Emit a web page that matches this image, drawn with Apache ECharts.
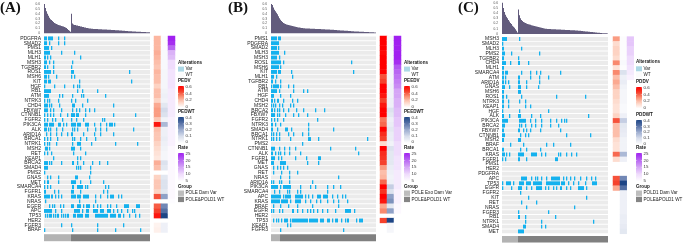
<!DOCTYPE html>
<html><head><meta charset="utf-8">
<script src="https://cdn.jsdelivr.net/npm/echarts@6/dist/echarts.min.js"></script>
<style>html,body{margin:0;padding:0;background:#fff}#c{width:685px;height:243px}</style>
</head><body><div id="c"></div><script>
// ---------------- DATA ----------------
const genesA = ['PDGFRA','SMAD2','PMS1','MLH3','MLH1','MSH3','TGFBR2','ROS1','MSH6','KIT','HGF','RB1','ATM','NTRK3','CHD4','FBXW7','CTNNB1','FGFR2','PIK3CA','ALK','ARID1A','BRCA1','NTRK1','MSH2','RET','KEAP1','BRCA2','SMAD4','PMS2','GNAS','MET','SMARCA4','FGFR1','KRAS','NRAS','EGFR','APC','TP53','HER2','FGFR3','BRAF'];
const mutA = ['0-2,4-8,14,20','0-2,5,14,20','0-4,7','0-5,17,30','0-1,3,6,36','0-2,5,9,28','0-1,3,9,27','0-6,9,27-29,85','0-2,4,12,27,30','0-2,4-6,35,87',
 '0,10,20,29,33,35','0-6,33,38,53','0-4,15,18,28,37,39,61','0,3,5,14,27,31,43','0-3,5,7,15,28-30,38,69','0-3,6,9,17,28,32,35,41,45,50','0,3,6,9,16,23,27-30,32-34,41,69,91','0,3,8,11,18,27,32,39,58,60',
 '0-3,5-9,14-16,19,22,27-31,33-36,41-44,50,56,62,65-68,70','0-2,4,6,12,18,28,30,33,43,51,56,62,89','2,6,12,17,23,27-28,39,50,56,69','0,3,6,13,28,30,36,42,51','0,3,5,12,28,33-36,47,71,93','1-3,5,27-30,36','0,3,7,29,41','9,33,36',
 '0-3,5,7,17,28-29,33,39,48,55,63','0-3,32,34,36,46','0,46','3,6,14,31-33,45','0,3-4,14,27-31,36,46,59','0,3,6,28-29,33-38,41,43,61,64','0-1,10,14,27-29,36,59,63',
 '0-5,7-8,11,14,17,27-31,33-36,39-44,51,56,63,66-69,74,77','1,35,51','5,8,10,16,19,27-29,33-36,39,42-45,49,53,56,63,66,72,80-84,92-95',
 '0-7,11,17,30-35,38,42-44,49-53,56-59,63-66,69,73,77,83,88,90','1,3,5-7,9,11,13-14,17,19,21,23-24,29-31,33-38,41-44,51-63,66-71,74-76,79,85,91,95','','17,27,53,79','0,28,53,71,96'];
const tmbA = [0.60,0.52,0.45,0.40,0.36,0.32,0.29,0.27,0.25,0.23,0.21,0.20,0.19,0.18,0.17,0.165,0.16,0.15,0.145,0.14,0.13,0.12,0.11,0.09,0.07,0.05,0.03,
 0.40,0.20,0.18,0.17,0.17,0.16,0.16,0.15,0.15,0.14,0.14,0.13,0.13,0.12,0.12,0.11,0.11,0.105,0.10,0.10,
 0.095,0.095,0.09,0.09,0.09,0.088,0.086,0.085,0.084,0.083,0.082,0.08,0.08,0.078,0.077,0.076,0.075,0.074,0.073,0.072,
 0.07,0.069,0.068,0.066,0.065,0.063,0.062,0.06,0.058,0.056,0.055,0.053,0.052,0.05,0.048,0.047,0.045,0.044,0.042,0.041,
 0.04,0.038,0.037,0.036,0.035,0.034,0.033,0.032,0.031,0.03,0.029,0.028,0.027,0.026,0.025,0.024,0.023,0.022,0.02];
const groupSizesA = [27, 79];
const pedvA = [0.22,0.22,0.22,0.24,0.22,0.2,0.18,0.22,0.2,0.2,0.15,0.2,0.2,0.15,0.25,0.28,0.28,0.18,0.55,0.2,0.18,0.18,0.15,0.12,0.1,0.08,0.24,0.2,null,0.15,0.18,0.18,0.15,0.42,null,0.4,0.45,0.55,null,0.04,0.05];
const pedwtA = [0.01,0.01,0.01,0.02,0.02,0.02,0.02,0.03,0.03,0.03,0.03,0.04,0.05,0.04,0.08,0.12,0.1,0.04,0.2,0.05,0.05,0.06,0.05,0.04,0.03,0.03,0.1,0.08,null,0.08,0.1,0.1,0.08,0.25,null,0.3,0.35,0.45,null,0.05,0.05];
const rateA = [25,24,20,14,13,10,10,9,9,9,9,8,8,8,8,8,8,7,7,7,7,7,7,6,6,6,6,6,6,6,6,6,6,6,5.5,5,5,5,null,5,5];

const genesB = ['PMS1','PDGFRA','SMAD2','MLH3','MSH3','ROS1','MSH6','KIT','MLH1','TGFBR2','RB1','ATM','HGF','CHD4','MSH2','BRCA2','FBXW7','FGFR2','NTRK3','SMAD4','BRCA1','NTRK1','PMS2','CTNNB1','ALK','FGFR1','MET','GNAS','RET','NRAS','ARID1A','PIK3CA','SMARCA4','APC','KRAS','BRAF','EGFR','HER2','TP53','KEAP1','FGFR3'];
const mutB = ['0-5,7-9','0-7','0-5,7','0-7,13','0-5,8','0-9,12,80','0-7,9','0-5,7-9,20,82','0-2,5,21','0-1,4,9',
 '0,2-7,9,17,22','0-5,8,22,32,36','0-2,9,19','0-1,3,6-7,12,21,26','0,2,4,8,11,19,22','0-1,3,6,8,12,17,25,32,44,53','0-3,6,8,14,22,27,36','0,3,6,12,46','0-1,4,9,37','0-1,6,14-16,20,37,62',
 '0,2,5,8,17,22,31,37','0,2,5,8,19,37-39,47,96','31','0-3,8,13,18,24,59,84','0-1,4,7,9,13,18,29,87','0-3,7,10,24,35,47-49','0-2,9-14,36,47','2,6,9,12,16','2,10,18,26','9,18,67',
 '0,2,8,10,18,41','0-6,9,12-19,29,39,44,56,62,69','3,8,16,18,26,29,56','0-9,12,14-19,24-31,34,37,41,46-49,52-56,61,66,71,74','0-8,10-16,19,24-29,34,39,45,49,56,62,67,76','2,9,17,26,41,67',
 '0,2,8,11,21-22,26,31,36,39,42,46,51,56,64,74-79,83','','2,5,7,10,13-16,19,21-36,38-46,49-52,56-58,61,64-66,70,74,76-77,85,88-91','16,19','9,72'];
const tmbB = [0.62,0.58,0.53,0.48,0.45,0.42,0.39,0.35,0.31,
 0.28,0.25,0.23,0.21,0.20,0.19,0.18,0.175,0.17,0.165,0.16,0.155,0.15,0.145,0.14,0.135,0.13,0.125,0.12,0.12,
 0.115,0.11,0.11,0.105,0.105,0.10,0.10,0.10,0.098,0.096,0.095,0.094,0.093,0.092,0.091,0.09,0.09,0.089,0.088,0.087,
 0.086,0.085,0.084,0.083,0.082,0.08,0.079,0.078,0.077,0.076,0.075,0.074,0.073,0.072,0.07,0.068,0.066,0.064,0.062,0.06,
 0.058,0.057,0.056,0.055,0.054,0.053,0.052,0.05,0.048,0.046,0.045,0.044,0.042,0.04,0.039,0.038,0.037,0.036,0.035,0.034,
 0.033,0.032,0.031,0.03,0.029,0.028,0.027,0.026,0.025,0.024,0.022,0.021,0.02,0.019,0.018,0.017];
const groupSizesB = [9, 96];
const pedvB = [0.6,0.6,0.6,0.58,0.6,0.6,0.6,0.6,0.42,0.45,0.6,0.6,0.55,0.45,0.55,0.6,0.6,0.35,0.38,0.6,0.5,0.45,0.12,0.6,0.5,0.48,0.45,0.28,0.2,0.22,0.38,0.6,0.48,0.6,0.55,0.25,0.32,null,0.45,null,null];
const pedwtB = [0.02,0.02,0.02,0.02,0.02,0.02,0.02,0.03,0.03,0.03,0.04,0.04,0.04,0.05,0.05,0.1,0.08,0.05,0.06,0.08,0.06,0.06,0.04,0.1,0.08,0.08,0.08,0.06,0.05,0.04,0.05,0.15,0.1,0.25,0.28,0.08,0.25,null,0.45,0.03,0.03];
const rateB = [25,25,25,25,25,24,21,20,19,18,17,15,15,14,14,13,13,12,12,11,11,11,10,10,10,9,9,9,8,8,8,8,7,7,7,6,6,null,5,5,5];

const genesC = ['MSH3','SMAD2','MLH3','PMS2','TGFBR2','CHD4','MLH1','SMARCA4','ATM','ARID1A','GNAS','MSH6','ROS1','NTRK3','KEAP1','HGF','ALK','PIK3CA','BRCA2','FBXW7','CTNNB1','MSH2','BRAF','BRCA1','KRAS','FGFR1','PMS1','HER2','PDGFRA','APC','TP53','EGFR','FGFR2','KIT','RET','NRAS','FGFR3','RB1','NTRK1','SMAD4','MET'];
const mutC = ['0-4,17','0','0-1,19','0-2,9,37','0-1,16','0-3,8,16-17,26','0-1','0-1,3-5,19,28,34,38,58','0-1,3,16-17,28,37,46','0-1,3,6,16-17,24,37',
 '0-2,7,16-18,24,36','0-1,16-18','0-1,4,19,54,83','0-1,6,17,23','0-1,6,23,28','0,17,46','0-1,7,16-18,29,38,86','0-5,17-23,28,33,39,48,54,59,62,64','0-2,17,19,23,29,33,39,48,56','0-1,16-17,21,24,28,38,58',
 '0-2,18,23,26,64,88','0-1,16-18','8,21,44,51,68','0-1,18,24,38','0-2,4,7,16-21,29-34,39,43,56,58,64,69,74','0,3,16-17,24,53-55','','','',
 '19-24,29,33,35,39,44,49-57,61,64,68,72,78,84,89,93','0,4-8,11,17-21,24-28,31-39,44-57,59-62,66,71,76,83,90-94','0,9,16-19,24,29,34-39,43,46,51,54,58-59,64,68,76-81,84',
 '18','26,84','19,34','24,72','16,46','16-17,23,53','23,39,91','21-23,39,43','16-21'];
const tmbC = [0.60,0.50,0.42,0.37,0.33,0.30,0.27,0.24,0.21,0.19,0.16,0.14,0.12,0.09,0.06,0.03,
 0.47,0.36,0.30,0.27,0.25,0.23,0.22,0.21,0.20,0.19,0.185,0.18,0.175,0.17,0.165,0.16,0.155,0.15,0.145,0.14,
 0.135,0.13,0.125,0.12,0.115,0.11,0.105,0.10,0.10,0.098,0.096,0.095,0.094,0.093,0.092,0.091,0.09,0.089,0.088,0.087,
 0.086,0.085,0.084,0.083,0.082,0.081,0.08,0.079,0.078,0.077,0.076,0.075,0.074,0.073,0.072,0.071,0.07,0.069,0.068,0.066,
 0.064,0.062,0.06,0.058,0.056,0.054,0.052,0.05,0.048,0.046,0.044,0.042,0.04,0.038,0.036,0.034,0.032,0.03,0.028,0.026,
 0.024,0.022,0.02,0.018,0.016,0.015,0.014,0.013,0.012,0.011];
const groupSizesC = [16, 90];
const pedvC = [0.28,0.12,0.15,0.15,0.12,0.32,0.1,0.32,0.2,0.25,0.2,0.15,0.15,0.12,0.1,0.1,0.15,0.42,0.2,0.2,0.2,0.12,0.1,0.1,0.38,0.12,null,null,null,0.42,0.45,0.25,null,null,null,null,null,null,null,null,null];
const pedwtC = [0.01,0.01,0.01,0.01,0.01,0.02,0.01,0.1,0.05,0.06,0.04,0.03,0.03,0.03,0.02,0.02,0.05,0.15,0.08,0.07,0.06,0.04,0.04,0.04,0.2,0.05,null,null,null,0.3,0.45,0.35,0.05,0.05,0.05,0.05,0.05,0.06,0.06,0.07,0.08];
const rateC = [12,12,11,11,10,10,9,8,7,null,null,null,null,null,null,null,null,null,null,null,null,null,null,null,null,null,null,null,null,null,null,null,null,null,null,null,null,null,null,null,null];

const panelLabels = ['(A)','(B)','(C)'];
const groupNamesA = ['POLE Dam Var','POLE&POLD1 WT'];
const groupNamesB = ['POLE Exo Dam Var','POLE&POLD1 WT'];
const groupNamesC = ['POLD1 Dam Var','POLE&POLD1 WT'];
const scoreTitlesA = ['PEDV','PEDWT'];
const scoreTitlesB = ['PEEDV','PEEDWT'];
const scoreTitlesC = ['PDDV','PDDWT'];
const altLabels = ['Var','WT'];
const tmbTicks = [0,0.1,0.2,0.3,0.4,0.5,0.6];
const pedvTicks = [0.6,0.4,0.2,0];
const pedwtTicks = [0.4,0.3,0.2,0.1,0];
const rateTicks = [25,20,15,10,5];

// ---------------- STYLE ----------------
const VAR_COL = '#14b1ee', BG_COL = '#ebebeb', BAR_COL = '#625b7c';
const GROUP_COLS = ['#b3b3b3','#808080'];
const PEDV_COLS = ['#ffffff','#fdd3c3','#fa9478','#f5412c','#ff0000'];
const PEDWT_COLS = ['#ffffff','#d8deec','#9eaed0','#5a74a8','#1d4585'];
const RATE_COLS = ['#ffffff','#efdcfc','#d5a6f6','#b866f2','#a020f0'];
const FONT = 'Liberation Sans';

function ranges(str){
  if(!str) return [];
  return str.split(',').map(t=>{const p=t.split('-').map(Number);return [p[0], p.length>1?p[1]:p[0]];});
}

const option = {animation:false, textStyle:{fontFamily:FONT}, grid:[], xAxis:[], yAxis:[], series:[], visualMap:[], graphic:[]};
const vmIdx = {pedv:[], pedwt:[], rate:[]};

function addGrid(g, xa, ya){
  option.grid.push(Object.assign({outerBoundsMode:'none'}, g));
  const i = option.grid.length-1;
  option.xAxis.push(Object.assign({gridIndex:i}, xa));
  option.yAxis.push(Object.assign({gridIndex:i}, ya));
  return i;
}
const hid = d => ({type:'category', data:d, show:false});

function spanRenderer(colorFn, gap, snap){
  return function(params, api){
    const s=api.value(0), y=api.value(1), e=api.value(2);
    const p0=api.coord([s,y]), p1=api.coord([e,y]);
    const sz=api.size([1,1]);
    let x0=p0[0]-sz[0]/2, x1=p1[0]+sz[0]/2;
    if(snap){ x0=Math.round(x0); x1=Math.max(x0+1.3, Math.round(x1)); }
    return {type:'rect', shape:{x:x0, y:p0[1]-sz[1]/2+gap/2, width:x1-x0, height:sz[1]-gap},
            style:{fill:colorFn(api)}};
  };
}

function gradFill(cols){
  const n=cols.length;
  return {type:'linear', x:0, y:0, x2:0, y2:1, colorStops: cols.slice().reverse().map((c,i)=>({offset:i/(n-1), color:c}))};
}
function txt(x,y,s,opt){
  return {type:'text', x:x, y:y, silent:true, style:Object.assign({text:s, fontSize:4.6, fontFamily:FONT, fill:'#1a1a1a', verticalAlign:'middle', align:'left'}, opt||{})};
}

function panel(P){
  const N = P.tmb.length, xs=[...Array(N).keys()];
  const gB = addGrid({left:P.hx, top:P.bt, width:P.hw, height:P.bh}, hid(xs),
    {type:'value', min:0, max:0.6, interval:0.1, axisLine:{show:false}, axisTick:{show:false}, splitLine:{show:false},
     axisLabel:{fontSize:3.2, color:'#4d4d4d', margin:4, formatter:v=>{const t=tmbTicks.find(k=>Math.abs(k-v)<1e-6);return t===0?'0':(t!==undefined?t.toFixed(1):'');}}});
  const gH = addGrid({left:P.hx, top:P.ht, width:P.hw, height:P.hh}, hid(xs),
    {type:'category', data:P.genes, inverse:true, axisLine:{show:false}, axisTick:{show:false},
     axisLabel:{fontSize:5, color:'#222', margin:3, interval:0, fontFamily:FONT}});
  const gG = addGrid({left:P.hx, top:P.gt, width:P.hw, height:P.gh}, hid(xs), hid(['g']));
  const gC = P.cx.map(cx=>addGrid({left:cx, top:P.ht, width:P.cw, height:P.hh}, hid(['v']),
     {type:'category', data:P.genes, inverse:true, show:false}));

  option.series.push({type:'bar', xAxisIndex:gB, yAxisIndex:gB, data:P.tmb, barCategoryGap:'12%', itemStyle:{color:BAR_COL}, silent:true});
  option.series.push({type:'custom', xAxisIndex:gH, yAxisIndex:gH, silent:true,
    data:P.genes.map((g,i)=>[0,i,N-1]), renderItem:spanRenderer(()=>BG_COL,0.9,false)});
  const md=[];
  P.mut.forEach((s,gi)=>ranges(s).forEach(r=>md.push([r[0],gi,r[1]])));
  option.series.push({type:'custom', xAxisIndex:gH, yAxisIndex:gH, silent:true, data:md, renderItem:spanRenderer(()=>VAR_COL,0.9,true)});
  const gd=[]; let st=0;
  P.groupSizes.forEach((n,k)=>{gd.push([st,0,st+n-1,k]); st+=n;});
  option.series.push({type:'custom', xAxisIndex:gG, yAxisIndex:gG, silent:true, data:gd,
    renderItem:spanRenderer(api=>GROUP_COLS[api.value(3)],0,false)});
  [[P.pedv,'pedv'],[P.pedwt,'pedwt'],[P.rate,'rate']].forEach((pair,k)=>{
    const d=[]; pair[0].forEach((v,i)=>{ if(v!==null) d.push([0,i,v]); });
    option.series.push({type:'heatmap', xAxisIndex:gC[k], yAxisIndex:gC[k], data:d, silent:true});
    vmIdx[pair[1]].push(option.series.length-1);
  });

  option.graphic.push(txt(P.lbx, 8.5, P.label, {fontSize:15, fontWeight:'bold', fontFamily:'Liberation Serif', fill:'#111'}));
  const L=P.leg, lx=P.lx, tx=lx+7.5;
  option.graphic.push(txt(lx, L.alt, 'Alterations', {fontWeight:'bold'}));
  option.graphic.push({type:'rect', shape:{x:lx, y:L.alt+4.3, width:6, height:5}, style:{fill:'#add8e6'}, silent:true});
  option.graphic.push(txt(tx, L.alt+6.8, altLabels[0]));
  option.graphic.push({type:'rect', shape:{x:lx, y:L.alt+10.3, width:6, height:5}, style:{fill:'#fbfbfb'}, silent:true});
  option.graphic.push(txt(tx, L.alt+12.8, altLabels[1]));
  const bars=[[P.titles[0],L.b1,PEDV_COLS,pedvTicks,0,0.6],[P.titles[1],L.b2,PEDWT_COLS,pedwtTicks,0,0.4],['Rate',L.b3,RATE_COLS,rateTicks,5,25]];
  bars.forEach(b=>{
    const [t,[y0,y1],cols,ticks,mn,mx]=b;
    option.graphic.push(txt(lx, y0-4.8, t, {fontWeight:'bold'}));
    option.graphic.push({type:'rect', shape:{x:lx, y:y0, width:6, height:y1-y0}, style:{fill:gradFill(cols)}, silent:true});
    ticks.forEach(v=>{
      const yy = y0+0.8+(mx-v)/(mx-mn)*(y1-y0-1.6);
      option.graphic.push(txt(tx, yy, v===0?'0':(mx<1?v.toFixed(1):String(v)), {fontSize:4.4, fill:'#333'}));
      option.graphic.push({type:'line', shape:{x1:lx, y1:yy, x2:lx+1.2, y2:yy}, style:{stroke:'#fff', lineWidth:0.4}, silent:true});
      option.graphic.push({type:'line', shape:{x1:lx+4.8, y1:yy, x2:lx+6, y2:yy}, style:{stroke:'#fff', lineWidth:0.4}, silent:true});
    });
  });
  option.graphic.push(txt(lx, L.grp, 'Group', {fontWeight:'bold'}));
  option.graphic.push({type:'rect', shape:{x:lx, y:L.grp+3.5, width:6, height:5.4}, style:{fill:'#bdbdbd'}, silent:true});
  option.graphic.push(txt(tx, L.grp+6.2, P.groupNames[0]));
  option.graphic.push({type:'rect', shape:{x:lx, y:L.grp+9.7, width:6, height:5.4}, style:{fill:'#858585'}, silent:true});
  option.graphic.push(txt(tx, L.grp+12.4, P.groupNames[1]));
}

const legAB = {alt:62.3, b1:[86,107.5], b2:[117,143], b3:[153,181.5], grp:187};
panel({label:panelLabels[0], lbx:0, genes:genesA, mut:mutA, tmb:tmbA, groupSizes:groupSizesA, pedv:pedvA, pedwt:pedwtA, rate:rateA,
  hx:44, hw:106, bt:4, bh:29.3, ht:36, hh:196.5, gt:234.2, gh:7, cx:[154,161,168], cw:7,
  lx:178, leg:legAB, titles:scoreTitlesA, groupNames:groupNamesA});
panel({label:panelLabels[1], lbx:228, genes:genesB, mut:mutB, tmb:tmbB, groupSizes:groupSizesB, pedv:pedvB, pedwt:pedwtB, rate:rateB,
  hx:271, hw:105, bt:4, bh:29.3, ht:36, hh:196.5, gt:234.2, gh:7, cx:[380,387,394], cw:7,
  lx:404, leg:legAB, titles:scoreTitlesB, groupNames:groupNamesB});
panel({label:panelLabels[2], lbx:458, genes:genesC, mut:mutC, tmb:tmbC, groupSizes:groupSizesC, pedv:pedvC, pedwt:pedwtC, rate:rateC,
  hx:502, hw:106, bt:2.7, bh:31.3, ht:36.6, hh:197.2, gt:236, gh:6.6, cx:[613,620,627], cw:6.7,
  lx:636, leg:{alt:62, b1:[87,108.5], b2:[120,144.5], b3:[153,181.5], grp:187}, titles:scoreTitlesC, groupNames:groupNamesC});

option.visualMap = [
  {type:'continuous', show:false, min:0, max:0.6, seriesIndex:vmIdx.pedv, inRange:{color:PEDV_COLS}},
  {type:'continuous', show:false, min:0, max:0.45, seriesIndex:vmIdx.pedwt, inRange:{color:PEDWT_COLS}},
  {type:'continuous', show:false, min:5, max:25, seriesIndex:vmIdx.rate, inRange:{color:RATE_COLS}}
];

const chart = echarts.init(document.getElementById('c'), null, {renderer:'canvas'});
chart.setOption(option);
</script></body></html>
